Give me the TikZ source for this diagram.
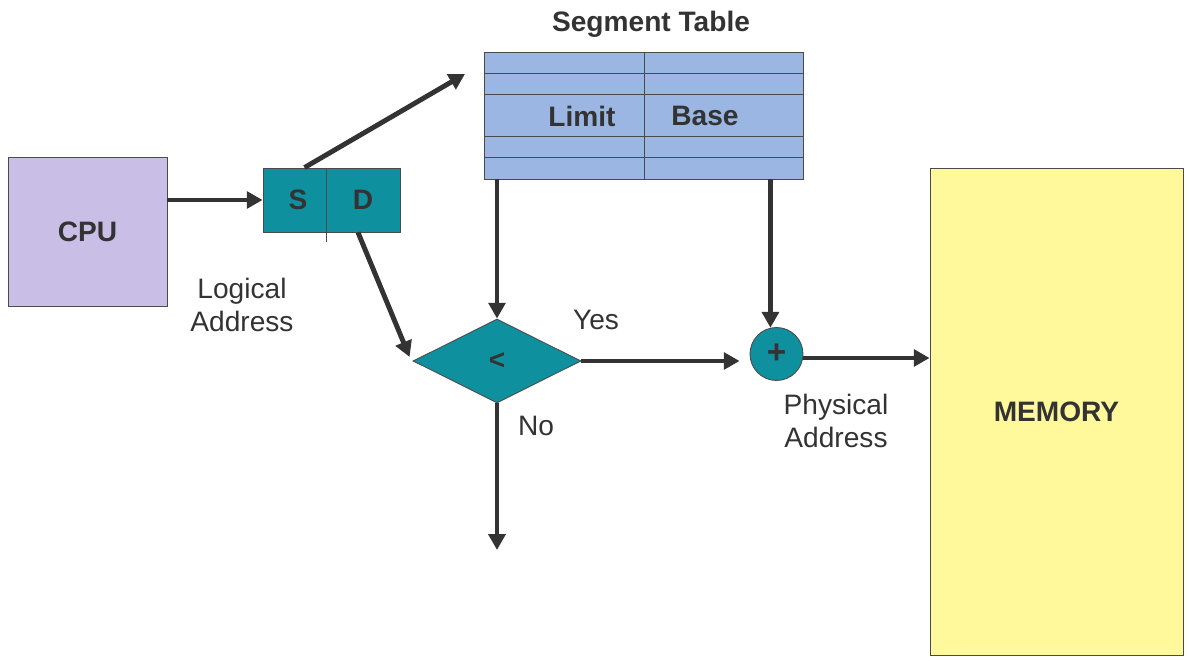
\documentclass[tikz,border=0pt]{standalone}
\usepackage{fontspec}
\setmainfont{Liberation Sans}
\usetikzlibrary{shapes.geometric, arrows.meta, positioning, calc}
\usepackage{xcolor}
\definecolor{cText}{HTML}{333333}
\definecolor{cEdge}{HTML}{4A4A4A}
\definecolor{cCpu}{HTML}{C9BFE6}
\definecolor{cTeal}{HTML}{0F909E}
\definecolor{cTable}{HTML}{9BB6E3}
\definecolor{cMem}{HTML}{FFF99C}

\begin{document}
\begin{tikzpicture}[
  x=0.02cm, y=-0.02cm,
  every node/.style={font=\fontsize{16}{18.5}\selectfont, text=cText},
  bold/.style={font=\fontsize{16}{18.5}\selectfont\bfseries},
  blk/.style={draw=cEdge, fill=#1, line width=0.5pt, inner sep=0pt, bold},
  cell/.style={blk=cTeal, minimum height=1.28cm},
  arr/.style={draw=cText, line width=2.8pt,
    -{Triangle[length=9pt, width=9.5pt]}},
  tabline/.style={draw=cEdge, line width=0.5pt}
]
  \useasboundingbox (0,0) rectangle (1190,661);

  \node[blk=cCpu, minimum width=3.18cm, minimum height=2.98cm] (cpu) at (87.5,231.5) {CPU};

  \node[cell, minimum width=1.26cm] (S) at (294.5,200) {\hspace{4pt}S};
  \node[cell, minimum width=1.48cm] (D) at (363,200) {D};
  \draw[tabline] (S.south east) -- ++(0,10);

  % segment table
  \node[blk=cTable, minimum width=6.38cm, minimum height=2.54cm] (segtab) at (643.5,115.5) {};
  \foreach \yy in {73,94,136,157}
    \draw[tabline] (484,\yy) -- (803,\yy);
  \draw[tabline] (644,52) -- (644,179);
  \node[bold] (limit) at (582,116) {Limit};
  \node[bold] (base) at (705,116) {Base};
  \node[bold] (title) at (651,24) {Segment Table};

  \node[blk=cTeal, diamond, aspect=2, minimum width=3.36cm, minimum height=1.68cm] (cmp) at (497,361) {\raisebox{-3pt}{<}};
  \node[blk=cTeal, circle, minimum size=1.06cm, font=\fontsize{19}{20}\selectfont\bfseries] (plus) at (776.5,354) {+};

  \node[blk=cMem, minimum width=5.06cm, minimum height=9.74cm] (mem) at (1056.5,411.5) {MEMORY};

  \node[align=center] (logaddr) at (242,305) {Logical\\Address};
  \node (yes) at (596,320) {Yes};
  \node (no) at (536,426) {No};
  \node[align=center] (physaddr) at (836,421) {Physical\\Address};

  \coordinate (tabin) at (465,74);
  \coordinate (noend) at (497,550);

  \draw[arr] (cpu.east |- S.west) -- (S.west);
  \draw[arr] ([xshift=0.2cm]S.north) -- (tabin);
  \draw[arr] ([xshift=-0.1cm]D.south) -- ([xshift=-0.06cm,yshift=0.08cm]cmp.west);
  \draw[arr] (cmp.north |- segtab.south) -- (cmp.north);
  \draw[arr] (plus.103 |- segtab.south) -- (plus.103);
  \draw[arr, shorten >=0.2cm] (cmp.east) -- (cmp.east -| plus.west);
  \draw[arr] ([yshift=-0.08cm]plus.east) -- ([yshift=-0.08cm]plus.east -| mem.west);
  \draw[arr] (cmp.south) -- (noend);

\end{tikzpicture}
\end{document}
